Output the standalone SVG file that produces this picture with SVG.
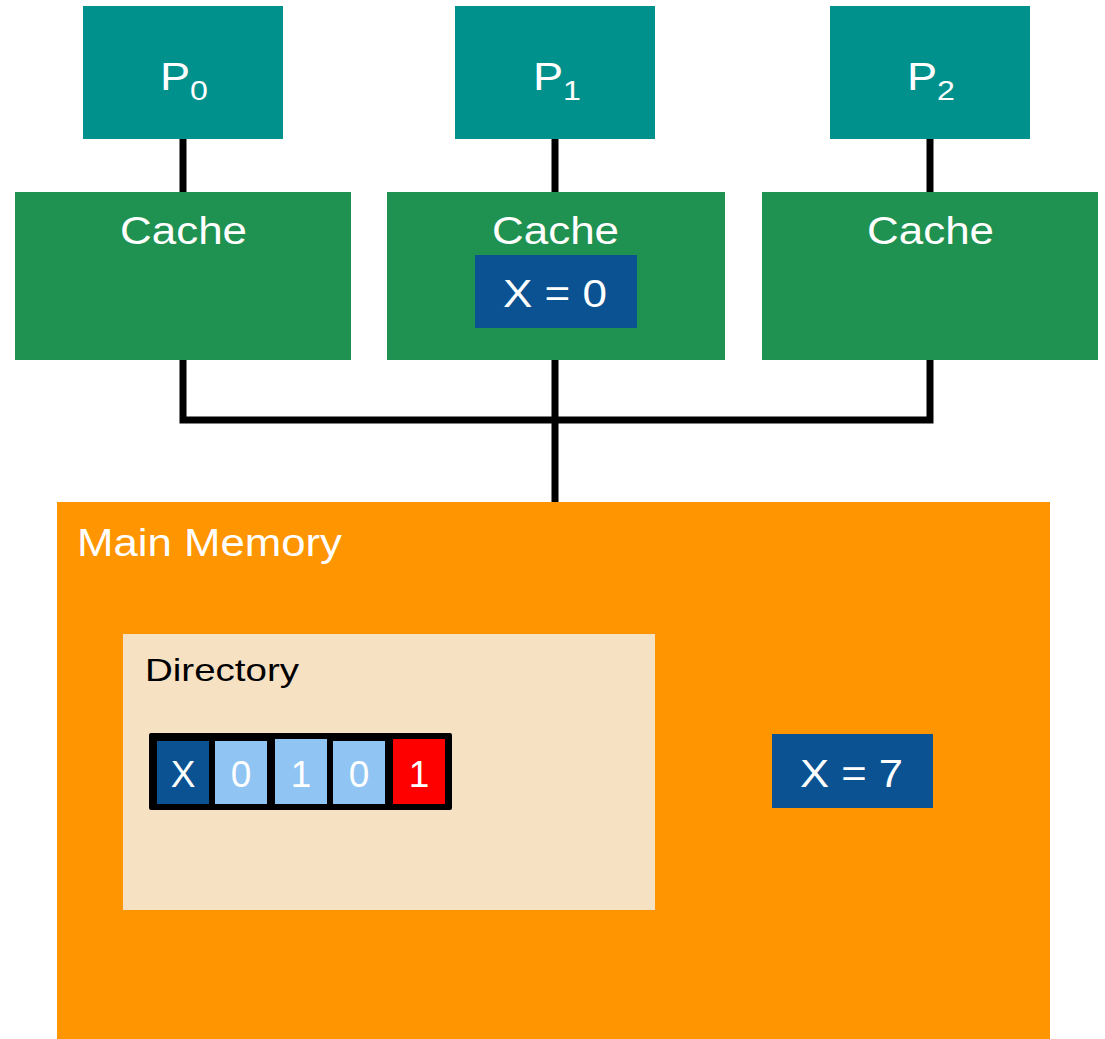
<svg xmlns="http://www.w3.org/2000/svg" width="1105" height="1039" viewBox="0 0 1105 1039">
<style>
.proc{fill:#00918d}
.cache{fill:#1f9151}
.val{fill:#0a5291}
.t{font-family:"Liberation Sans",Arial,sans-serif;fill:#fff}
.big{font-size:38px}
.sub{font-size:27px}
.cell{font-size:37px;text-anchor:middle}
.conn{stroke:#000;stroke-width:7;fill:none}
</style>
<rect width="1105" height="1039" fill="#fff"/>
<g id="connectors">
<line class="conn" x1="183" y1="139" x2="183" y2="192"/>
<line class="conn" x1="555" y1="139" x2="555" y2="192"/>
<line class="conn" x1="930" y1="139" x2="930" y2="192"/>
<polyline class="conn" points="183,360 183,420 930,420 930,360"/>
<line class="conn" x1="555" y1="360" x2="555" y2="502"/>
</g>
<g id="P0"><rect class="proc" x="83" y="6" width="200" height="133"/><text class="t big" x="160" y="90" textLength="48" lengthAdjust="spacingAndGlyphs">P<tspan class="sub" dy="10">0</tspan></text></g>
<g id="P1"><rect class="proc" x="455" y="6" width="200" height="133"/><text class="t big" x="533" y="90" textLength="48" lengthAdjust="spacingAndGlyphs">P<tspan class="sub" dy="10">1</tspan></text></g>
<g id="P2"><rect class="proc" x="830" y="6" width="200" height="133"/><text class="t big" x="907" y="90" textLength="48" lengthAdjust="spacingAndGlyphs">P<tspan class="sub" dy="10">2</tspan></text></g>
<g id="cache0"><rect class="cache" x="15" y="192" width="336" height="168"/><text class="t big" x="120" y="244" textLength="127" lengthAdjust="spacingAndGlyphs">Cache</text></g>
<g id="cache1"><rect class="cache" x="387" y="192" width="338" height="168"/><text class="t big" x="492" y="244" textLength="127" lengthAdjust="spacingAndGlyphs">Cache</text>
<rect class="val" x="475" y="255" width="162" height="73"/><text class="t big" x="503" y="307" textLength="104" lengthAdjust="spacingAndGlyphs">X = 0</text></g>
<g id="cache2"><rect class="cache" x="762" y="192" width="336" height="168"/><text class="t big" x="867" y="244" textLength="127" lengthAdjust="spacingAndGlyphs">Cache</text></g>
<g id="memory"><rect x="57" y="502" width="993" height="537" fill="#ff9500"/><text class="t big" x="77" y="556" textLength="265" lengthAdjust="spacingAndGlyphs">Main Memory</text>
<rect class="val" x="772" y="734" width="161" height="74"/><text class="t big" x="800" y="787" textLength="103" lengthAdjust="spacingAndGlyphs">X = 7</text></g>
<g id="directory"><rect x="123" y="634" width="532" height="276" fill="#f7e1c3"/><text x="145" y="681" font-family="Liberation Sans,Arial,sans-serif" font-size="32" fill="#000" textLength="154" lengthAdjust="spacingAndGlyphs">Directory</text>
<rect x="149" y="733" width="303" height="77" fill="#000" rx="2"/>
<rect x="157" y="741" width="52" height="63" fill="#0a5291"/>
<rect x="215" y="741" width="52" height="63" fill="#90c4f2"/>
<rect x="275" y="739" width="52" height="65" fill="#90c4f2"/>
<rect x="333" y="741" width="52" height="63" fill="#90c4f2"/>
<rect x="393" y="739" width="52" height="65" fill="#ff0000"/>
<text class="t cell" x="183" y="787">X</text>
<text class="t cell" x="241" y="787">0</text>
<text class="t cell" x="301" y="787">1</text>
<text class="t cell" x="359" y="787">0</text>
<text class="t cell" x="419" y="787">1</text>
</g>
</svg>
